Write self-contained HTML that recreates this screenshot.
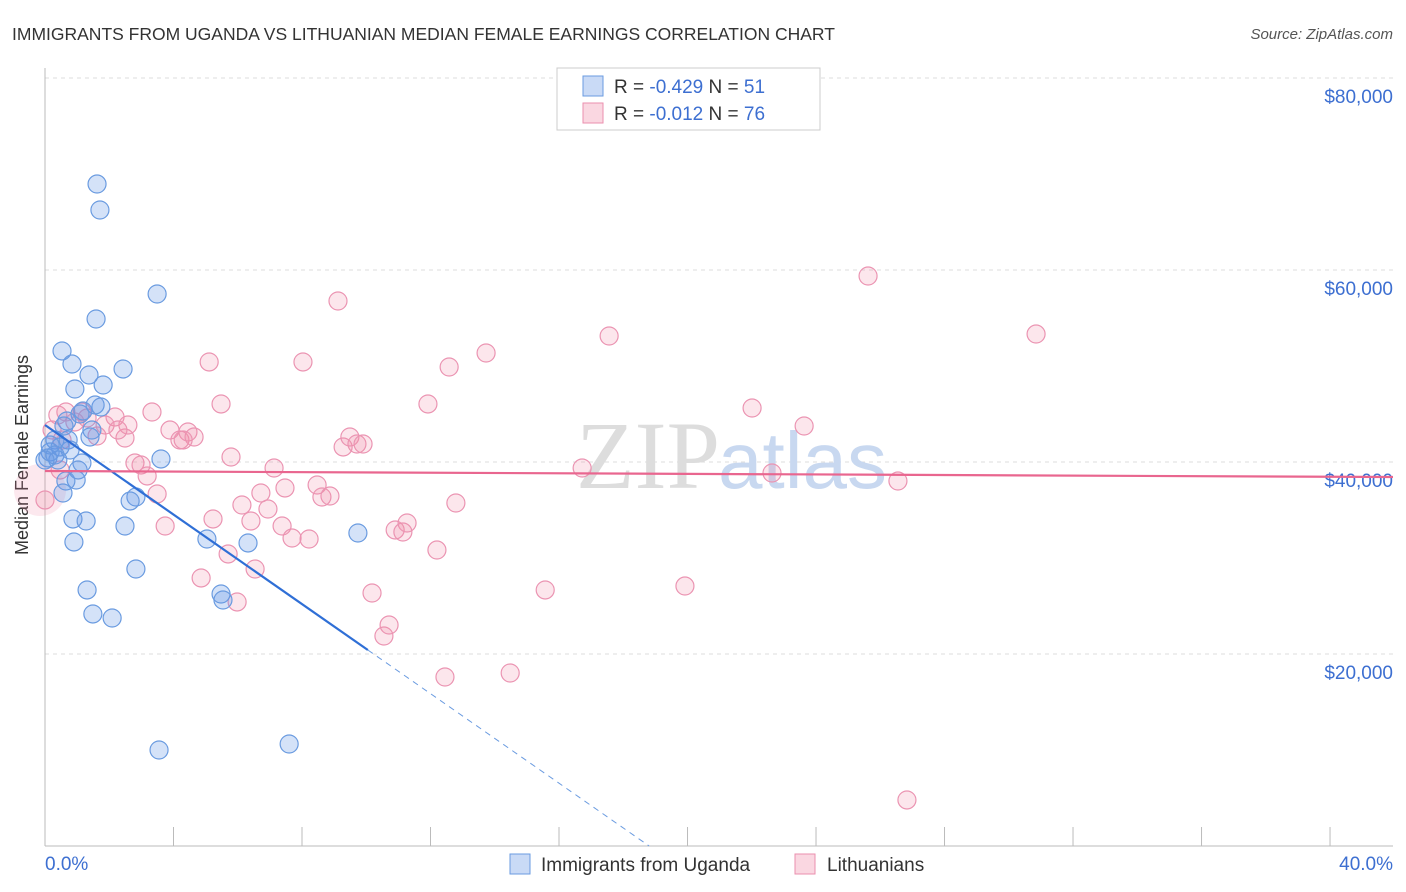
<!DOCTYPE html>
<html><head><meta charset="utf-8"><style>
body{margin:0;background:#fff;font-family:"Liberation Sans",sans-serif}
svg{display:block}
</style></head><body>
<svg width="1406" height="892" xmlns="http://www.w3.org/2000/svg">
<text x="12" y="40" font-size="17.5" fill="#333">IMMIGRANTS FROM UGANDA VS LITHUANIAN MEDIAN FEMALE EARNINGS CORRELATION CHART</text>
<text x="1393" y="39" font-size="15" fill="#555" font-style="italic" text-anchor="end">Source: ZipAtlas.com</text>
<g id="grid"></g>
<text x="720" y="488" font-size="96" font-family="Liberation Serif" fill="#ddd" text-anchor="end">ZIP</text>
<text x="718" y="488" font-size="80" fill="#c8d8f0">atlas</text>
<line x1="45" y1="68" x2="45" y2="846" stroke="#bbb"/>
<line x1="45" y1="846" x2="1393" y2="846" stroke="#bbb"/>
<text x="28" y="455" font-size="18" fill="#333" text-anchor="middle" transform="rotate(-90 28 455)">Median Female Earnings</text>
<text x="45" y="870" font-size="19" fill="#3d6fd1">0.0%</text>
<text x="1393" y="870" font-size="19" fill="#3d6fd1" text-anchor="end">40.0%</text>
<circle cx="40" cy="490" r="26" fill="rgba(240,140,170,0.2)" stroke="none"/>
<g id="pts"></g>
<g id="trends"></g>
<g>
<rect x="557" y="68" width="263" height="62" fill="#fff" stroke="#ccc"/>
<rect x="583" y="76" width="20" height="20" fill="rgba(100,150,230,0.35)" stroke="#6a9be0"/>
<text x="614" y="93" font-size="19" fill="#333">R = <tspan fill="#3d6fd1">-0.429</tspan>   N = <tspan fill="#3d6fd1">51</tspan></text>
<rect x="583" y="103" width="20" height="20" fill="rgba(240,140,170,0.35)" stroke="#eb8fae"/>
<text x="614" y="120" font-size="19" fill="#333">R =  <tspan fill="#3d6fd1">-0.012</tspan>   N = <tspan fill="#3d6fd1">76</tspan></text>
</g>
<g>
<rect x="510" y="854" width="20" height="20" fill="rgba(100,150,230,0.35)" stroke="#6a9be0"/>
<text x="541" y="871" font-size="19" fill="#333">Immigrants from Uganda</text>
<rect x="795" y="854" width="20" height="20" fill="rgba(240,140,170,0.35)" stroke="#eb8fae"/>
<text x="827" y="871" font-size="19" fill="#333">Lithuanians</text>
</g>
</svg>
<script>
const yTicks=[20000,40000,60000,80000];
const yTickLabels=["$20,000","$40,000","$60,000","$80,000"];
const xTicks=[4,8,12,16,20,24,28,32,36,40];
const blueX=[1.62,1.71,3.49,1.59,0.53,0.84,2.43,1.37,1.81,0.93,1.74,1.18,1.09,0.68,1.46,1.40,0.31,0.47,0.78,0.16,0.40,0.09,1.15,0.97,0.65,0.56,2.83,2.65,0.87,1.28,2.49,5.04,6.32,9.74,0.90,3.61,2.83,1.31,1.49,2.09,5.48,5.54,3.55,7.60,0.16,0.31,0.00,1.03,1.56,0.72,0.59];
const blueY=[68958,66250,57500,54896,51563,50208,49688,49063,48021,47604,45729,45313,45000,44271,43333,42604,42292,41563,41250,41042,40208,40417,39896,38125,38021,36771,36354,35938,34063,33854,33333,31979,31563,32604,31667,40313,28854,26667,24167,23750,26250,25625,10000,10625,41771,40729,40208,39167,45938,42292,43750];
const pinkX=[0.40,0.65,1.15,1.31,2.18,1.87,2.49,2.58,3.33,3.89,4.20,4.45,4.64,4.30,5.11,5.48,5.79,2.80,2.99,3.18,3.49,3.74,5.23,4.86,5.70,6.54,5.98,6.13,6.41,6.72,6.94,7.13,7.47,7.38,7.69,8.22,8.03,8.47,8.62,8.87,9.12,9.28,9.49,9.71,9.90,10.18,10.55,10.71,10.90,11.14,11.27,11.92,12.20,12.45,12.58,12.79,13.73,14.48,15.57,16.72,17.56,19.92,22.01,22.63,23.63,25.62,26.55,26.83,30.85,0.53,0.93,0.22,1.62,0.00,0.47,2.27];
const pinkY=[44896,45208,45208,44583,44688,43854,42500,43854,45208,43333,42292,43125,42604,42292,50417,46042,40521,39896,39688,38542,36667,33333,34063,27917,30417,28854,25417,35521,33854,36771,35104,39375,37292,33333,32083,31979,50417,37604,36354,36458,56771,41563,42604,41875,41875,26354,21875,23021,32917,32708,33646,46042,30833,17604,49896,35729,51354,18021,26667,39375,53125,27083,45625,38854,43750,59375,38021,4792,53333,42292,44167,43333,42708,36042,39167,43333];
const blueTrend=[43854,-2332];
const pinkTrend=[39063,-15];
const X0=45,X1=1393,XMAX=41.96,Y0=846,PXPER=192/20000;
const sx=v=>X0+(X1-X0)*v/XMAX;
const sy=v=>Y0-v*PXPER;
const NS="http://www.w3.org/2000/svg";
function mk(t,a,p){const e=document.createElementNS(NS,t);for(const k in a)e.setAttribute(k,a[k]);p.appendChild(e);return e;}
const grid=document.getElementById('grid');
yTicks.forEach((t,i)=>{
 const l=mk('line',{x1:X0,x2:X1,y1:sy(t),y2:sy(t),stroke:'#ddd','stroke-dasharray':'4,4'},grid);
 
 
 const tx=mk('text',{x:1393,y:sy(t)+25,'font-size':19,fill:'#3d6fd1','text-anchor':'end'},grid);
 tx.textContent=yTickLabels[i];
 
 
});
const tg=mk('line',{x1:X0,x2:X1,y1:78,y2:78,stroke:'#ddd','stroke-dasharray':'4,4'},grid);


xTicks.forEach(t=>{
 const l=mk('line',{x1:sx(t),x2:sx(t),y1:827,y2:846,stroke:'#bbb'},grid);
 
 
});
const pts=document.getElementById('pts');
pinkX.forEach((x,i)=>{
 const c=mk('circle',{cx:sx(x),cy:sy(pinkY[i]),r:9,fill:'rgba(240,140,170,0.22)',stroke:'#eb94b2','stroke-width':1.2},pts);
 
 
});
blueX.forEach((x,i)=>{
 const c=mk('circle',{cx:sx(x),cy:sy(blueY[i]),r:9,fill:'rgba(100,150,230,0.28)',stroke:'#6a9be0','stroke-width':1.2},pts);
 
 
});
const tr=document.getElementById('trends');
const bz=-blueTrend[0]/blueTrend[1];
const b1=mk('line',{x1:sx(0),y1:sy(blueTrend[0]),x2:sx(10.05),y2:sy(blueTrend[0]+blueTrend[1]*10.05),stroke:'#2f6fd6','stroke-width':2.2},tr);


const b2=mk('line',{x1:sx(10.05),y1:sy(blueTrend[0]+blueTrend[1]*10.05),x2:sx(bz),y2:sy(0),stroke:'#6a9be0','stroke-width':1,'stroke-dasharray':'6,5'},tr);


const p1=mk('line',{x1:sx(0),y1:sy(pinkTrend[0]),x2:sx(XMAX),y2:sy(pinkTrend[0]+pinkTrend[1]*XMAX),stroke:'#e9668f','stroke-width':2.2},tr);


</script>
</body></html>
